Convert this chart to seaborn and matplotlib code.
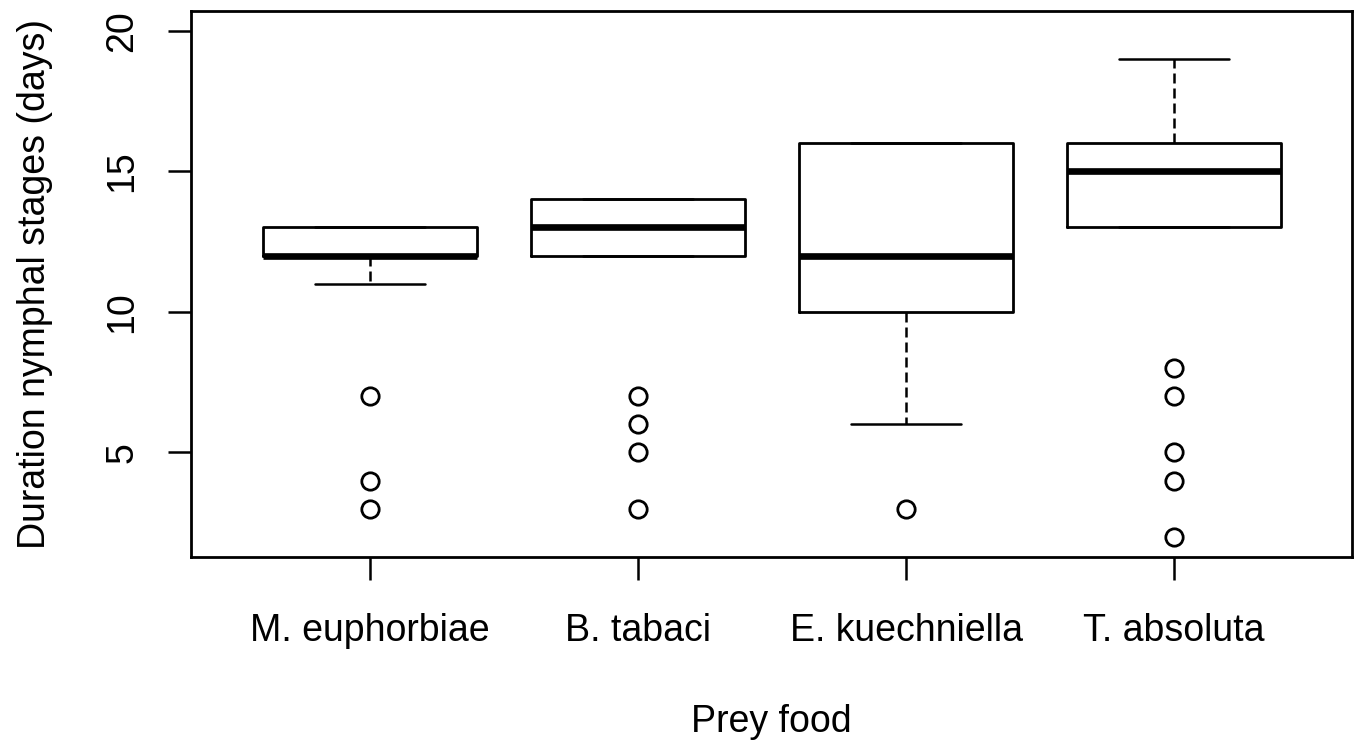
import matplotlib
matplotlib.use("Agg")
import matplotlib.pyplot as plt
import seaborn as sns
import pandas as pd

# ---- data ----
categories = ["M. euphorbiae", "B. tabaci", "E. kuechniella", "T. absoluta"]
whisker_low = [11, 12, 6, 13]
q1 = [12, 12, 10, 13]
median = [12, 13, 12, 15]
q3 = [13, 14, 16, 16]
whisker_high = [13, 14, 16, 19]
outliers = [[7, 4, 3], [7, 6, 5, 3], [3], [8, 7, 5, 4, 2]]
yticks = [5, 10, 15, 20]

sns.set_theme(style="white")
plt.rcParams["font.family"] = ["Liberation Sans", "DejaVu Sans"]

fig = plt.figure(figsize=(13.58, 7.44), dpi=100)
ax = fig.add_axes([191 / 1358, 1 - 557 / 744, (1352 - 191) / 1358, (557 - 11) / 744])

# outlier points through seaborn (categorical axis -> positions 0..3)
out_cat, out_val = [], []
for c, vals in zip(categories, outliers):
    for v in vals:
        out_cat.append(c)
        out_val.append(v)
df_out = pd.DataFrame({"food": pd.Categorical(out_cat, categories=categories), "val": out_val})
sns.stripplot(data=df_out, x="food", y="val", order=categories, jitter=False, ax=ax,
              color="white", edgecolor="black", linewidth=2.0, size=12.5, zorder=3)

stats = []
for i, c in enumerate(categories):
    stats.append(dict(label=c, whislo=whisker_low[i], q1=q1[i], med=median[i],
                      q3=q3[i], whishi=whisker_high[i], fliers=[]))
ax.bxp(stats, positions=range(len(categories)), widths=0.80, showfliers=False,
       patch_artist=False,
       boxprops=dict(color="black", linewidth=2.0),
       medianprops=dict(color="black", linewidth=4.8, solid_capstyle="butt"),
       whiskerprops=dict(color="black", linewidth=1.8, linestyle=(0, (4, 2))),
       capprops=dict(color="black", linewidth=1.8),
       capwidths=0.41, manage_ticks=False)

ax.set_xlim(-0.668, 3.664)
ax.set_ylim(1.28, 20.7)
ax.set_xticks(range(len(categories)))
ax.set_xticklabels(categories)
ax.set_yticks(yticks)
ax.set_yticklabels([str(t) for t in yticks], rotation=90, va="center")

for s in ax.spines.values():
    s.set_visible(True)
    s.set_color("black")
    s.set_linewidth(2.0)
ax.tick_params(axis="both", which="major", length=16.5, width=1.8, color="black",
               labelsize=27, labelcolor="black", bottom=True, left=True)
ax.tick_params(axis="x", pad=24)
ax.tick_params(axis="y", pad=20)
ax.grid(False)

ax.set_xlabel("Prey food", fontsize=27, color="black", va="center")
ax.set_ylabel("Duration nymphal stages (days)", fontsize=27, color="black", va="center")
ax.xaxis.set_label_coords(0.5, (557 - 722) / 546)
ax.yaxis.set_label_coords((35 - 191) / 1161, 0.5)

fig.savefig("out.png", dpi=100, facecolor="white")
